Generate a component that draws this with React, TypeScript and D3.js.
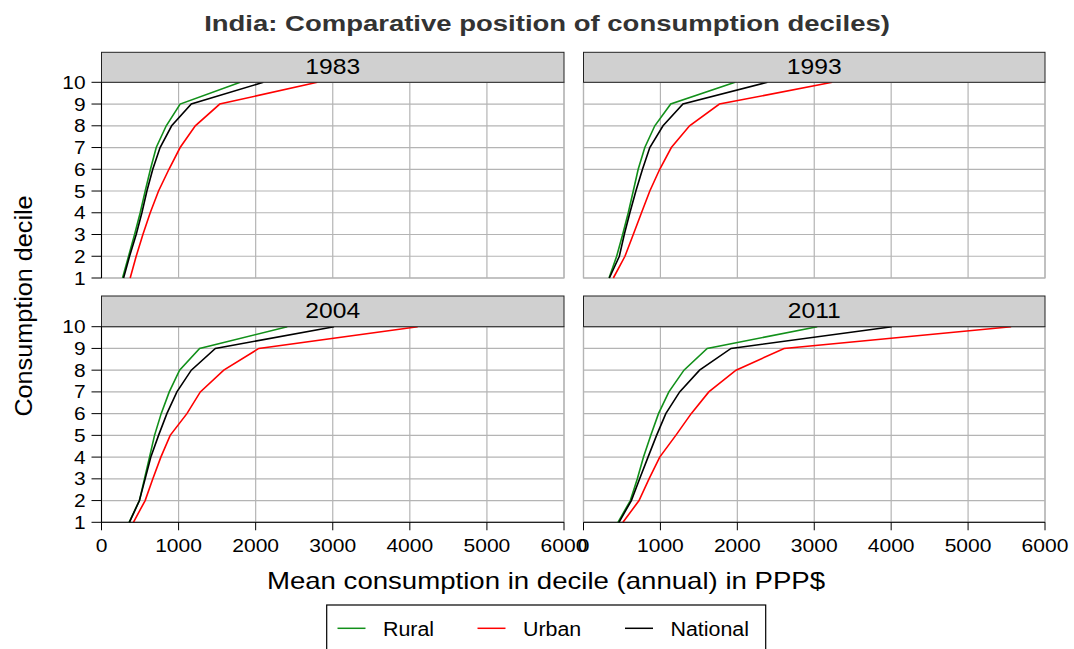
import * as d3 from "d3";

const deciles = [1, 2, 3, 4, 5, 6, 7, 8, 9, 10];
const years = ["1983", "1993", "2004", "2011"];

const rural1983 = [273, 351, 429, 502, 567, 635, 710, 840, 1020, 1800];
const urban1983 = [372, 450, 537, 632, 740, 875, 1020, 1217, 1534, 2800];
const national1983 = [286, 364, 450, 524, 589, 665, 760, 910, 1165, 2100];

const rural1993 = [332, 431, 509, 582, 647, 711, 797, 927, 1134, 1970];
const urban1993 = [388, 539, 647, 754, 862, 991, 1142, 1379, 1767, 3233];
const national1993 = [336, 466, 530, 603, 681, 767, 862, 1034, 1293, 2392];

const rural2004 = [358, 492, 557, 623, 688, 774, 879, 1013, 1273, 2410];
const urban2004 = [414, 566, 666, 770, 891, 1108, 1282, 1586, 2041, 4102];
const national2004 = [362, 492, 566, 640, 740, 848, 978, 1165, 1477, 3017];

const rural2011 = [448, 609, 700, 780, 875, 975, 1110, 1306, 1608, 3039];
const urban2011 = [513, 722, 852, 991, 1200, 1400, 1629, 1983, 2608, 5560];
const national2011 = [461, 622, 730, 839, 950, 1070, 1250, 1509, 1918, 4009];

const seriesNames = ["Rural", "Urban", "National"];
const seriesColors = ["#12901a", "#ff0000", "#000000"];
const xTicks = [0, 1000, 2000, 3000, 4000, 5000, 6000];

const panelData = [
  [rural1983, urban1983, national1983],
  [rural1993, urban1993, national1993],
  [rural2004, urban2004, national2004],
  [rural2011, urban2011, national2011],
];

const font = "Liberation Sans, Arial, Helvetica, sans-serif";
const cols = [[101.5, 564], [583.5, 1045]];
const rows = [
  { strip: 52.3, top: 82.3, bottom: 278 },
  { strip: 296, top: 326.7, bottom: 522.3 },
];

function T({ x, y, k = 1, rot = 0, anchor = "middle", size = 18, weight = "normal", fill = "#000", children }) {
  return (
    <text transform={`translate(${x},${y}) rotate(${rot}) scale(${k},1)`} textAnchor={anchor}
      fontSize={size} fontWeight={weight} fill={fill} fontFamily={font}>{children}</text>
  );
}

function Panel({ i }) {
  const col = i % 2, row = Math.floor(i / 2);
  const [x0, x1] = cols[col];
  const r = rows[row];
  const x = d3.scaleLinear([0, 6000], [x0, x1]);
  const y = d3.scaleLinear([1, 10], [r.bottom, r.top]);
  const line = d3.line<number>().x((d) => x(d)).y((_, j) => y(deciles[j]));
  return (
    <g>
      <rect x={x0} y={r.top} width={x1 - x0} height={r.bottom - r.top} fill="#fff" stroke="#b4b4b4" strokeWidth={1.2} />
      {xTicks.map((t) => (
        <line key={"v" + t} x1={x(t)} x2={x(t)} y1={r.top} y2={r.bottom} stroke="#b4b4b4" strokeWidth={1.2} />
      ))}
      {deciles.map((d) => (
        <line key={"h" + d} x1={x0} x2={x1} y1={y(d)} y2={y(d)} stroke="#b4b4b4" strokeWidth={1.2} />
      ))}
      {panelData[i].map((s, j) => (
        <path key={j} d={line(s)} fill="none" stroke={seriesColors[j]} strokeWidth={1.6} />
      ))}
      <rect x={x0} y={r.strip} width={x1 - x0} height={r.top - r.strip} fill="#d0d0d0" stroke="#222" strokeWidth={1} />
      <T x={(x0 + x1) / 2} y={r.strip + 21.5} size={22} k={1.12}>{years[i]}</T>
      {col === 0 && (
        <g>
          <line x1={x0} x2={x0} y1={r.top} y2={r.bottom} stroke="#000" strokeWidth={1} />
          {deciles.map((d) => (
            <g key={"yt" + d}>
              <line x1={x0 - 10} x2={x0} y1={y(d)} y2={y(d)} stroke="#000" strokeWidth={1} />
              <T x={x0 - 16} y={y(d) + 6.5} anchor="end" size={18} k={1.16}>{d}</T>
            </g>
          ))}
        </g>
      )}
      {row === 1 && (
        <g>
          <line x1={x0} x2={x1} y1={r.bottom} y2={r.bottom} stroke="#000" strokeWidth={1} />
          {xTicks.map((t) => (
            <g key={"xt" + t}>
              <line x1={x(t)} x2={x(t)} y1={r.bottom} y2={r.bottom + 8} stroke="#000" strokeWidth={1} />
              <T x={x(t)} y={551.5} size={18} k={1.17}>{t}</T>
            </g>
          ))}
        </g>
      )}
    </g>
  );
}

export default function App() {
  const legendX = [337.5, 477.5, 625];
  return (
    <div style={{ position: "fixed", left: 0, top: 0 }}>
      <svg width={1074} height={649} style={{ display: "block", background: "#fff" }}>
        <T x={547} y={31} size={22} k={1.25} weight="bold" fill="#333">India: Comparative position of consumption deciles)</T>
        {years.map((_, i) => <Panel key={i} i={i} />)}
        <T x={31.5} y={306} rot={-90} size={24} k={1.05}>Consumption decile</T>
        <T x={546} y={589} size={23} k={1.2}>Mean consumption in decile (annual) in PPP$</T>
        <rect x={326.7} y={605} width={439} height={50} fill="#fff" stroke="#000" strokeWidth={1.2} />
        {seriesNames.map((n, j) => (
          <g key={n}>
            <line x1={legendX[j]} x2={legendX[j] + 28} y1={628.3} y2={628.3} stroke={seriesColors[j]} strokeWidth={1.5} />
            <T x={legendX[j] + 45.5} y={636} anchor="start" size={20} k={1.07}>{n}</T>
          </g>
        ))}
      </svg>
    </div>
  );
}
